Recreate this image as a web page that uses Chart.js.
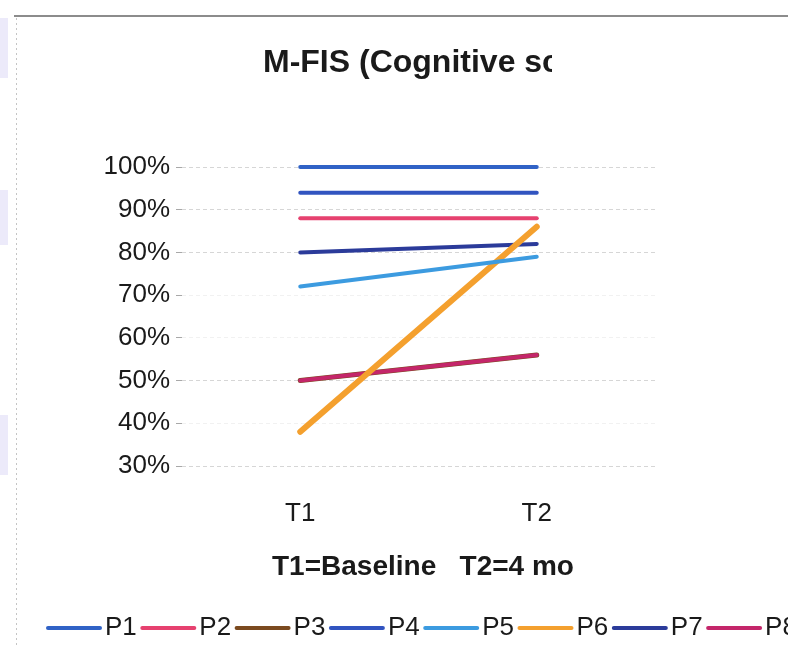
<!DOCTYPE html>
<html>
<head>
<meta charset="utf-8">
<script src="https://cdn.jsdelivr.net/npm/chart.js@4.4.1/dist/chart.umd.min.js"></script>
<style>
  html, body { margin: 0; padding: 0; background: #fff; }
  #wrap { position: relative; width: 788px; height: 646px; overflow: hidden; }
  canvas { display: block; }
</style>
</head>
<body>
<div id="wrap"><canvas id="c" width="788" height="646"></canvas></div>
<script>
// Chart text
const titleText = 'M-FIS (Cognitive scale)';
const xTitleText = 'T1=Baseline   T2=4 months';
const xTitleVisible = 'T1=Baseline   T2=4 mo';

// Time points and patients
const timepoints = ['T1', 'T2'];
const patients = ['P1', 'P2', 'P3', 'P4', 'P5', 'P6', 'P7', 'P8'];

// Cognitive subscale scores (fraction of maximum) per patient at T1, T2
const p1 = [1.00, 1.00];
const p2 = [0.88, 0.88];
const p3 = [0.50, 0.56];
const p4 = [0.94, 0.94];
const p5 = [0.72, 0.79];
const p6 = [0.38, 0.86];
const p7 = [0.80, 0.82];
const p8 = [0.50, 0.56];

// Y axis tick values
const yTicks = [0.3, 0.4, 0.5, 0.6, 0.7, 0.8, 0.9, 1.0];

const seriesValues = [p1, p2, p3, p4, p5, p6, p7, p8];
const seriesColors = ['#3062c6', '#e6416f', '#7b4a1f', '#3154c0', '#3c9be0', '#f4a02e', '#2b3b9a', '#c4266a'];
const seriesWidths = [4, 4, 5, 4, 4, 6, 4, 4];
// P3 sits underneath the other series where they coincide
const seriesOrder = [0, 0, 1, 0, 0, 0, 0, 0];
const fontFamily = '"Liberation Sans", Arial, Helvetica, sans-serif';

const datasets = patients.map((name, i) => ({
  label: name,
  data: seriesValues[i],
  borderColor: seriesColors[i],
  backgroundColor: seriesColors[i],
  borderWidth: seriesWidths[i],
  borderCapStyle: 'round',
  order: seriesOrder[i],
  clip: 8,
  pointRadius: 0,
  pointHoverRadius: 0,
  tension: 0,
  fill: false
}));

// Page frame, clipped title, axis caption and a left-aligned legend row
const decor = {
  id: 'decor',
  beforeDraw(chart) {
    const ctx = chart.ctx;
    ctx.save();
    ctx.fillStyle = '#fff';
    ctx.fillRect(0, 0, chart.width, chart.height);
    // faint lavender strips at the left margin
    ctx.fillStyle = 'rgba(200,196,240,0.35)';
    ctx.fillRect(0, 18, 8, 60);
    ctx.fillRect(0, 190, 8, 55);
    ctx.fillRect(0, 415, 8, 60);
    // frame lines
    ctx.strokeStyle = '#8c8c8c';
    ctx.lineWidth = 2;
    ctx.beginPath();
    ctx.moveTo(14, 16);
    ctx.lineTo(chart.width, 16);
    ctx.stroke();
    ctx.strokeStyle = '#c4c4c4';
    ctx.lineWidth = 1;
    ctx.setLineDash([2, 3]);
    ctx.beginPath();
    ctx.moveTo(16.5, 18);
    ctx.lineTo(16.5, chart.height);
    ctx.stroke();
    ctx.restore();
  },
  afterDraw(chart) {
    const ctx = chart.ctx;
    ctx.save();
    ctx.fillStyle = '#1a1a1a';
    ctx.textBaseline = 'alphabetic';
    ctx.textAlign = 'left';

    // title, cut off by the frame of its text box
    ctx.save();
    ctx.beginPath();
    ctx.rect(0, 0, 552, 120);
    ctx.clip();
    ctx.font = 'bold 32px ' + fontFamily;
    ctx.fillText(titleText, 263, 72);
    ctx.restore();

    // axis caption, cut off by its text box
    ctx.save();
    ctx.font = 'bold 28px ' + fontFamily;
    const capRight = 272 + ctx.measureText(xTitleVisible).width + 1;
    ctx.beginPath();
    ctx.rect(0, 530, capRight, 60);
    ctx.clip();
    ctx.fillText(xTitleText, 272, 575);
    ctx.restore();

    // legend row
    ctx.font = '26px ' + fontFamily;
    ctx.textBaseline = 'middle';
    let x = 48;
    const y = 628;
    chart.data.datasets.forEach(ds => {
      ctx.strokeStyle = ds.borderColor;
      ctx.lineWidth = 4;
      ctx.lineCap = 'round';
      ctx.beginPath();
      ctx.moveTo(x, y);
      ctx.lineTo(x + 52, y);
      ctx.stroke();
      ctx.fillStyle = '#1a1a1a';
      ctx.fillText(ds.label, x + 57, y);
      x += 57 + ctx.measureText(ds.label).width + 5.5;
    });
    ctx.restore();
  }
};

new Chart(document.getElementById('c'), {
  type: 'line',
  data: { labels: timepoints, datasets },
  plugins: [decor],
  options: {
    responsive: false,
    animation: false,
    devicePixelRatio: 1,
    layout: { padding: { left: 0, top: 167, right: 133, bottom: 0 } },
    plugins: {
      legend: { display: false },
      title: { display: false },
      tooltip: { enabled: false }
    },
    scales: {
      x: {
        type: 'category',
        offset: true,
        grid: { display: false, drawTicks: false },
        border: { display: false },
        ticks: {
          color: '#1a1a1a',
          font: { family: fontFamily, size: 26 },
          padding: 32
        },
        afterFit(s) { s.height = 180; }
      },
      y: {
        min: yTicks[0],
        max: yTicks[yTicks.length - 1],
        afterBuildTicks(s) { s.ticks = yTicks.map(v => ({ value: v })); },
        grid: {
          color: c => ([0.4, 0.6, 0.7].includes(Math.round(c.tick.value * 10) / 10) ? '#f1f1f1' : '#d6d6d6'),
          lineWidth: 1,
          tickLength: 6,
          tickColor: '#a8a8a8',
          tickBorderDash: []
        },
        border: { display: false, dash: [4, 3] },
        ticks: {
          color: '#1a1a1a',
          font: { family: fontFamily, size: 26 },
          padding: 6,
          callback: v => Math.round(v * 100) + '%'
        },
        afterFit(s) { s.width = 182; }
      }
    }
  }
});
</script>
</body>
</html>
